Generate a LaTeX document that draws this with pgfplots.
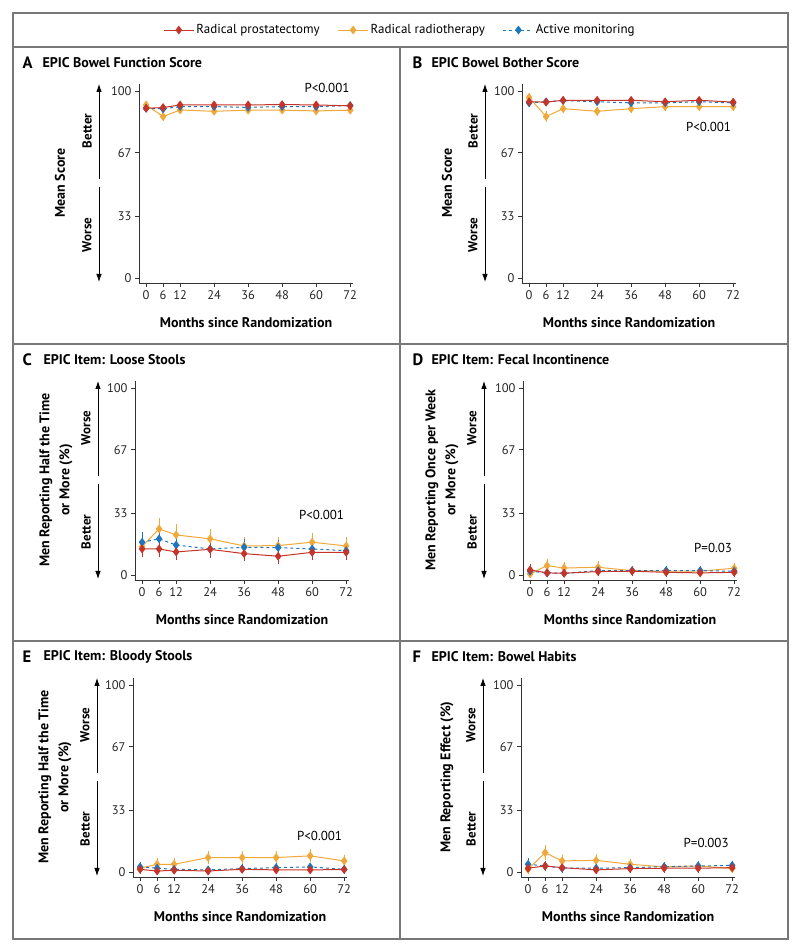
\documentclass[border=0pt]{standalone}
\usepackage{pgfplots}
\pgfplotsset{compat=1.18}
\usepackage{pgfplotstable}
\usepackage{fontspec}
\setmainfont{PT Sans}
\usetikzlibrary{arrows.meta}
\definecolor{rpc}{RGB}{196,52,40}
\definecolor{rtc}{RGB}{240,168,58}
\definecolor{amc}{RGB}{30,118,190}
\definecolor{framec}{RGB}{120,120,120}

\pgfplotstableread{
t a ae b be c ce
0  90.7 0.5  92.5 0.7  90.7 0.5
6  91.1 0.5  86.3 1.3  90.4 0.5
12 92.5 0.5  89.8 0.8  91.6 0.5
24 92.5 0.5  89.1 0.8  91.6 0.5
36 92.5 0.5  89.7 0.7  91.2 0.5
48 92.7 0.5  89.7 0.7  91.6 0.5
60 92.5 0.5  89.3 0.7  91.6 0.5
72 92.0 0.5  89.7 0.7  92.2 0.5
}\tabA
\pgfplotstableread{
t a ae b be c ce
0  94.2 0.6  96.5 0.8  93.6 0.8
6  94.0 0.6  86.3 1.8  94.2 0.6
12 95.0 0.6  90.5 1.2  94.8 0.6
24 95.0 0.6  89.1 1.2  94.2 0.6
36 95.0 0.6  90.5 1.0  93.6 0.6
48 94.2 0.6  91.6 0.9  93.6 0.6
60 95.0 0.6  91.6 0.9  94.2 0.6
72 94.0 0.6  91.6 0.9  93.6 0.6
}\tabB
\pgfplotstableread{
t a ae b be c ce
0  13.9 3.0  15.2 4.0  17.5 4.3
6  13.9 3.2  24.6 4.5  19.3 4.5
12 12.3 3.0  21.4 4.3  16.0 3.5
24 13.7 3.0  19.3 4.0  13.9 3.5
36 11.4 2.8  15.5 3.2  14.8 3.0
48 10.0 2.6  15.7 3.4  14.6 3.0
60 12.1 2.8  17.5 3.5  13.9 2.8
72 12.1 2.6  15.5 3.3  13.0 2.6
}\tabC
\pgfplotstableread{
t a ae b be c ce
0  2.7 2.0  0.5 1.0  2.0 1.3
6  1.1 1.0  5.0 2.2  1.1 1.0
12 0.9 0.8  3.7 1.8  0.9 0.8
24 1.8 1.0  4.1 1.8  2.3 1.0
36 2.0 1.0  2.3 1.2  2.3 1.0
48 1.4 0.9  2.0 1.2  2.3 1.0
60 1.1 0.9  2.0 1.1  2.3 1.0
72 1.4 0.9  3.6 1.6  2.0 1.0
}\tabD
\pgfplotstableread{
t a ae b be c ce
0  1.4 0.9  2.0 1.2  2.7 1.3
6  0.5 0.6  4.1 2.0  2.0 1.0
12 0.9 0.8  4.1 2.0  1.4 0.9
24 0.5 0.6  7.7 2.2  1.1 0.8
36 1.4 0.8  7.7 2.2  1.8 0.9
48 1.1 0.8  7.7 2.2  2.3 1.0
60 1.1 0.8  8.6 2.2  2.7 1.0
72 1.3 0.8  5.9 2.0  1.4 0.9
}\tabE
\pgfplotstableread{
t a ae b be c ce
0  2.0 1.2  1.4 1.2  4.1 2.0
6  3.2 1.4  10.3 2.8  3.2 1.5
12 2.3 1.2  5.9 2.0  2.0 1.2
24 1.1 1.0  6.2 2.0  2.0 1.0
36 1.8 1.0  4.1 1.6  2.3 1.0
48 2.0 1.0  2.7 1.2  2.8 1.2
60 2.0 1.0  3.2 1.2  3.2 1.2
72 2.3 1.0  1.8 1.2  3.5 1.2
}\tabF

\pgfplotsset{
  panel/.style={
    scale only axis, width=214pt, height=199pt, anchor=south west,
    xmin=-2.5, xmax=73, ymin=-2.7, ymax=103.7,
    axis x line*=bottom, axis y line*=left,
    axis line style={-, line width=0.9pt, black!80},
    xtick={0,6,12,24,36,48,60,72}, ytick={0,33,67,100},
    minor tick num=0,
    tick align=outside, major tick length=4pt,
    every tick/.style={black!80, line width=0.8pt},
    tick label style={font=\fontsize{12.5}{14}\selectfont, black!85},
    /pgf/number format/assume math mode=true,
    xlabel={Months since Randomization},
    xlabel style={font=\bfseries\fontsize{14}{16}\selectfont, at={(axis description cs:0.5,-0.2)}, anchor=center},
    clip=false,
  },
  rpstyle/.style={color=rpc, line width=1pt, mark=diamond*, mark size=3.6pt, mark options={solid, fill=rpc},
    /pgfplots/error bars/y dir=both, /pgfplots/error bars/y explicit,
    /pgfplots/error bars/error bar style={line width=0.8pt, solid},
    /pgfplots/error bars/error mark options={mark size=2.5pt, line width=0.8pt, solid}},
  rtstyle/.style={color=rtc, line width=1pt, mark=diamond*, mark size=3.6pt, mark options={solid, fill=rtc},
    /pgfplots/error bars/y dir=both, /pgfplots/error bars/y explicit,
    /pgfplots/error bars/error bar style={line width=0.8pt, solid},
    /pgfplots/error bars/error mark options={mark size=2.5pt, line width=0.8pt, solid}},
  amstyle/.style={color=amc, line width=1pt, dashed, mark=diamond*, mark size=3.6pt, mark options={solid, fill=amc},
    /pgfplots/error bars/y dir=both, /pgfplots/error bars/y explicit,
    /pgfplots/error bars/error bar style={line width=0.8pt, solid},
    /pgfplots/error bars/error mark options={mark size=2.5pt, line width=0.8pt, solid}},
}

\newcommand\series[1]{%
  \addplot[rtstyle] table[x=t,y=b,y error=be]{#1};
  \addplot[amstyle] table[x=t,y=c,y error=ce]{#1};
  \addplot[rpstyle] table[x=t,y=a,y error=ae]{#1};
}

\newcommand\deco[4]{%
  \draw[-{Latex[length=8pt,width=5.5pt]}, line width=0.8pt] (#2,{952-(#1+132)}) -- (#2,{952-(#1+37)});
  \draw[-{Latex[length=8pt,width=5.5pt]}, line width=0.8pt] (#2,{952-(#1+140)}) -- (#2,{952-(#1+235)});
  \node[rotate=90, font=\bfseries\fontsize{13}{14}\selectfont] at ({#2-12},{952-(#1+84)}) {#3};
  \node[rotate=90, font=\bfseries\fontsize{13}{14}\selectfont] at ({#2-12},{952-(#1+188)}) {#4};
}

\begin{document}
\begin{tikzpicture}[x=1pt,y=1pt]
\useasboundingbox (0,0) rectangle (800,952);
% frame
\draw[framec, line width=1.4pt] (13,13) rectangle (788,939);
\draw[framec, line width=1.4pt] (13,905) -- (788,905);
\draw[framec, line width=1.4pt] (13,608) -- (788,608);
\draw[framec, line width=1.4pt] (13,311) -- (788,311);
\draw[framec, line width=1.4pt] (400,905) -- (400,13);

% Panel A
\begin{axis}[panel, at={(139pt,669pt)},
  legend style={at={(1.2196,1.271)}, anchor=center, draw=none, fill=none,
    legend columns=3, font=\fontsize{13}{15}\selectfont,
    /tikz/every even column/.append style={column sep=16pt}},
  legend image code/.code={\draw[mark repeat=2,mark phase=2,#1] plot coordinates {(0pt,0pt) (15pt,0pt) (30pt,0pt)};}]
\addlegendimage{rpstyle}\addlegendentry{Radical prostatectomy}
\addlegendimage{rtstyle}\addlegendentry{Radical radiotherapy}
\addlegendimage{amstyle}\addlegendentry{Active monitoring}
\series{\tabA}
\node[anchor=east, font=\fontsize{13}{15}\selectfont] at (axis cs:73,101.8) {P<0.001};
\end{axis}

% Panel B
\begin{axis}[panel, at={(522pt,669pt)}]
\series{\tabB}
\node[anchor=east, font=\fontsize{13}{15}\selectfont] at (axis cs:72.5,80.7) {P<0.001};
\end{axis}

% Panel C
\begin{axis}[panel, at={(135pt,372pt)}]
\series{\tabC}
\node[anchor=east, font=\fontsize{13}{15}\selectfont] at (axis cs:72.5,32) {P<0.001};
\end{axis}

% Panel D
\begin{axis}[panel, at={(523pt,372pt)}]
\series{\tabD}
\node[anchor=east, font=\fontsize{13}{15}\selectfont] at (axis cs:72.5,14.4) {P=0.03};
\end{axis}

% Panel E
\begin{axis}[panel, at={(133pt,75pt)}]
\series{\tabE}
\node[anchor=east, font=\fontsize{13}{15}\selectfont] at (axis cs:72.5,19.3) {P<0.001};
\end{axis}

% Panel F
\begin{axis}[panel, at={(521pt,75pt)}]
\series{\tabF}
\node[anchor=east, font=\fontsize{13}{15}\selectfont] at (axis cs:72,15.5) {P=0.003};
\end{axis}

% titles
\node[anchor=west, font=\bfseries\fontsize{16.5}{18}\selectfont] at (19,889) {A};
\node[anchor=west, font=\bfseries\fontsize{14}{16}\selectfont] at (39,889) {EPIC Bowel Function Score};
\node[anchor=west, font=\bfseries\fontsize{16.5}{18}\selectfont] at (409,889) {B};
\node[anchor=west, font=\bfseries\fontsize{14}{16}\selectfont] at (428,889) {EPIC Bowel Bother Score};
\node[anchor=west, font=\bfseries\fontsize{16.5}{18}\selectfont] at (19,592) {C};
\node[anchor=west, font=\bfseries\fontsize{14}{16}\selectfont] at (40,592) {EPIC Item: Loose Stools};
\node[anchor=west, font=\bfseries\fontsize{16.5}{18}\selectfont] at (409,592) {D};
\node[anchor=west, font=\bfseries\fontsize{14}{16}\selectfont] at (428,592) {EPIC Item: Fecal Incontinence};
\node[anchor=west, font=\bfseries\fontsize{16.5}{18}\selectfont] at (19,295) {E};
\node[anchor=west, font=\bfseries\fontsize{14}{16}\selectfont] at (40,295) {EPIC Item: Bloody Stools};
\node[anchor=west, font=\bfseries\fontsize{16.5}{18}\selectfont] at (409,295) {F};
\node[anchor=west, font=\bfseries\fontsize{14}{16}\selectfont] at (428,295) {EPIC Item: Bowel Habits};

% y labels
\node[rotate=90, font=\bfseries\fontsize{14}{16}\selectfont] at (60,769) {Mean Score};
\node[rotate=90, font=\bfseries\fontsize{14}{16}\selectfont] at (447,769) {Mean Score};
\node[rotate=90, align=center, font=\bfseries\fontsize{14}{20}\selectfont] at (56,472) {Men Reporting Half the Time\\or More (\%)};
\node[rotate=90, align=center, font=\bfseries\fontsize{14}{20}\selectfont] at (442,472) {Men Reporting Once per Week\\or More (\%)};
\node[rotate=90, align=center, font=\bfseries\fontsize{14}{20}\selectfont] at (55,175) {Men Reporting Half the Time\\or More (\%)};
\node[rotate=90, font=\bfseries\fontsize{14}{16}\selectfont] at (447,175) {Men Reporting Effect (\%)};

% arrows
\deco{47}{99}{Better}{Worse}
\deco{47}{485}{Better}{Worse}
\deco{344}{98}{Worse}{Better}
\deco{344}{484}{Worse}{Better}
\deco{641}{97}{Worse}{Better}
\deco{641}{483}{Worse}{Better}
\end{tikzpicture}
\end{document}
